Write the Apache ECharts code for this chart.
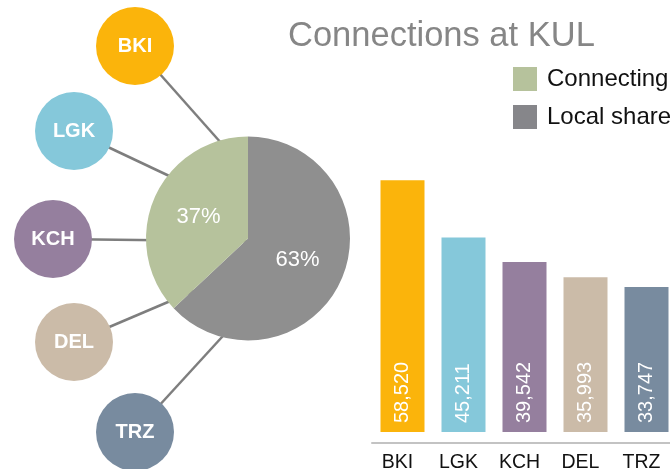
<!DOCTYPE html>
<html>
<head>
<meta charset="utf-8">
<script src="https://cdn.jsdelivr.net/npm/echarts@6/dist/echarts.min.js"></script>
<style>
html,body{margin:0;padding:0;background:#fff;}
#chart{width:670px;height:469px;}
</style>
</head>
<body>
<div id="chart"></div>
<script>
// ---- data ----
var categories = ['BKI', 'LGK', 'KCH', 'DEL', 'TRZ'];
var connectionValues = [58520, 45211, 39542, 35993, 33747];
var shareNames = ['Local share', 'Connecting'];
var shareValues = [63, 37];
var titleText = 'Connections at KUL';

// ---- styles / layout ----
var catColors = ['#fbb40b', '#85c8da', '#957f9e', '#cbbba8', '#788b9f'];
var shareColors = ['#8f8f8f', '#b6c29c'];
var legendColors = {'Connecting': '#b6c29c', 'Local share': '#86868a'};
var FONT = '"Liberation Sans", Arial, Helvetica, sans-serif';
// decorative bubble placement (pixels) around the pie
var bubbleLayout = [[135, 46], [74, 131], [53, 239], [74, 342], [135, 432]];
var focus = [309, 242];
var pieCenter = [248, 238.5];

function fmt(n) { return String(n).replace(/\B(?=(\d{3})+(?!\d))/g, ','); }

var bubbleData = categories.map(function (c, i) {
  return { name: c, value: bubbleLayout[i], itemStyle: { color: catColors[i] } };
});
var lineData = categories.map(function (c, i) {
  return { coords: [bubbleLayout[i], focus] };
});

var chart = echarts.init(document.getElementById('chart'), null, { renderer: 'canvas' });
chart.setOption({
  animation: false,
  backgroundColor: '#fff',
  textStyle: { fontFamily: FONT },
  title: {
    text: titleText,
    left: 288, top: 19, padding: 0,
    textStyle: { fontFamily: FONT, fontSize: 34.5, fontWeight: 'normal', color: '#868686' }
  },
  legend: {
    orient: 'vertical',
    left: 513, top: 67, padding: 0,
    itemWidth: 24, itemHeight: 24, itemGap: 14,
    icon: 'rect',
    data: ['Connecting', 'Local share'].map(function (n) {
      return { name: n, itemStyle: { color: legendColors[n] } };
    }),
    textStyle: { fontFamily: FONT, fontSize: 24, color: '#111', padding: [16, 0, 0, 5] }
  },
  grid: [
    { left: 372, width: 305, top: 174, bottom: 37, containLabel: false, outerBoundsMode: 'none' },
    { left: 0, top: 0, right: 0, bottom: 0, containLabel: false, outerBoundsMode: 'none' }
  ],
  xAxis: [
    {
      type: 'category', gridIndex: 0, data: categories, offset: 11,
      axisLine: { show: true, onZero: false, lineStyle: { color: '#c3c3c3', width: 2 } },
      axisTick: { show: false },
      axisLabel: { color: '#111', fontSize: 19.5, margin: 10, fontFamily: FONT, padding: [0, 10, 0, 0] },
      splitLine: { show: false }
    },
    { type: 'value', gridIndex: 1, min: 0, max: 670, show: false }
  ],
  yAxis: [
    { type: 'value', gridIndex: 0, min: 0, max: 60000, show: false, splitLine: { show: false } },
    { type: 'value', gridIndex: 1, min: 0, max: 469, inverse: true, show: false }
  ],
  series: [
    {
      type: 'lines', coordinateSystem: 'cartesian2d', xAxisIndex: 1, yAxisIndex: 1,
      z: 1, silent: true,
      lineStyle: { color: '#7e7e7e', width: 2.5, opacity: 1 },
      data: lineData
    },
    {
      type: 'scatter', xAxisIndex: 1, yAxisIndex: 1, z: 3,
      symbol: 'circle', symbolSize: 78,
      data: bubbleData,
      label: {
        show: true, position: 'inside', formatter: '{b}',
        color: '#fff', fontSize: 20, fontWeight: 'bold', fontFamily: FONT
      },
      itemStyle: { opacity: 1 }
    },
    {
      type: 'pie', z: 4,
      center: pieCenter, radius: 102,
      startAngle: 90, clockwise: true,
      data: shareNames.map(function (n, i) {
        return { name: n, value: shareValues[i], itemStyle: { color: shareColors[i] } };
      }),
      label: {
        show: true, position: 'inside',
        formatter: function (p) { return p.value + '%'; },
        color: '#fff', fontSize: 22, fontFamily: FONT, fontWeight: 'normal'
      },
      labelLine: { show: false },
      emphasis: { disabled: true }
    },
    {
      type: 'bar', xAxisIndex: 0, yAxisIndex: 0, barWidth: 44,
      data: connectionValues.map(function (v, i) {
        return { value: v, itemStyle: { color: catColors[i] } };
      }),
      label: {
        show: true, position: 'insideBottom', rotate: 90,
        align: 'left', verticalAlign: 'middle', distance: 9,
        formatter: function (p) { return fmt(p.value); },
        color: '#fff', fontSize: 20, fontFamily: FONT
      }
    }
  ]
});
</script>
</body>
</html>
